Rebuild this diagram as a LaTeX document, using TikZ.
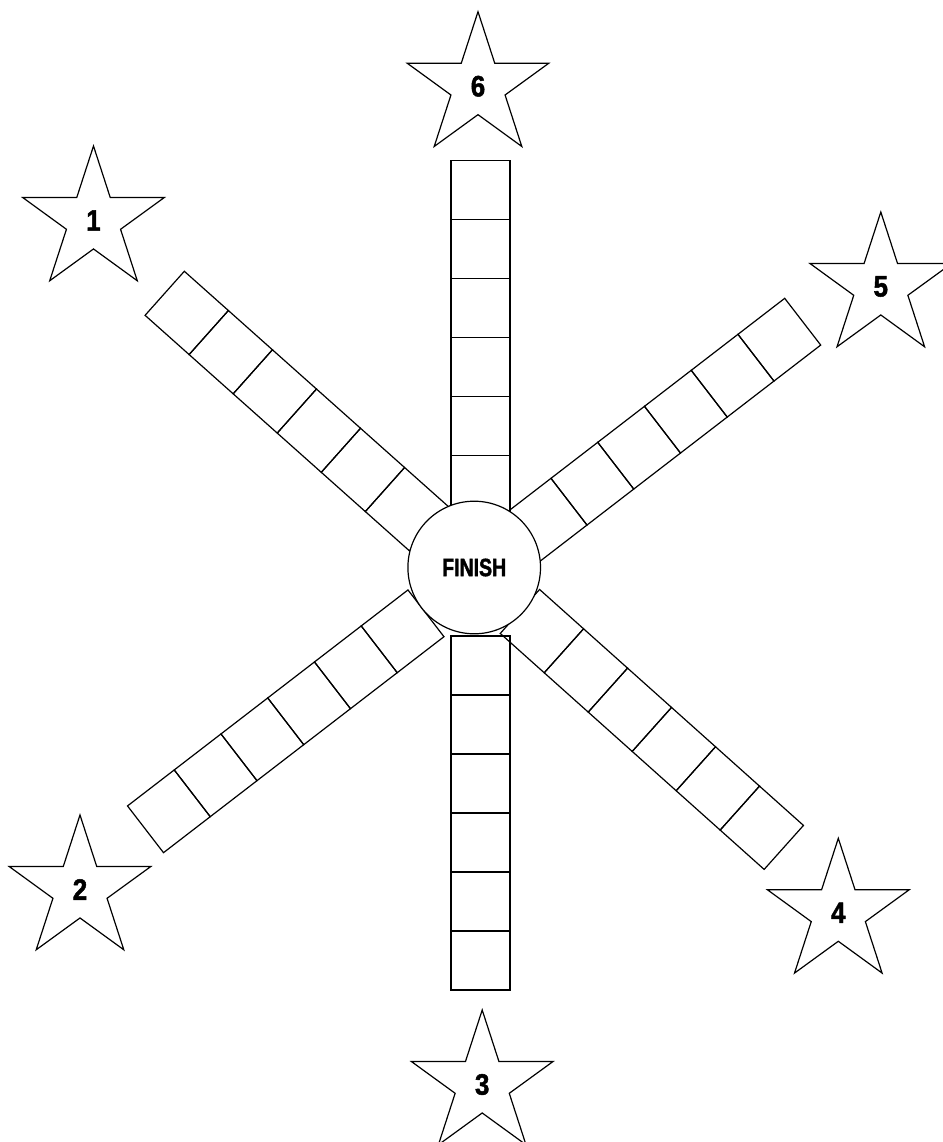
\documentclass[tikz,border=0pt]{standalone}
\usepackage{fontspec}
\setmainfont{Liberation Sans}
\newfontfamily\heavyfont[FakeStretch=0.88, FakeBold=1.6]{Liberation Sans Bold}
\newfontfamily\narrowfont[FakeStretch=0.78, FakeBold=1.6]{Liberation Sans Bold}
\usetikzlibrary{shapes.geometric}
\tikzset{
  starbox/.style={draw, star, star points=5, star point ratio=2.618,
    minimum size=149pt, inner sep=0pt,
    font=\heavyfont\fontsize{29.5}{29.5}\selectfont},
  goal/.style={draw, circle, fill=white, minimum size=132.6pt, inner sep=0pt,
    font=\narrowfont\fontsize{25}{25}\selectfont}
}

\begin{document}
\begin{tikzpicture}[x=1pt, y=-1pt, line width=1.2pt]
  \useasboundingbox (0,0) rectangle (942,1142);
  % arms of six squares, from the outer end inwards
  \foreach \px/\py/\a in {164.7/293.3/-41.7, 145.5/829.3/37.6, 480.5/990/90,
                          783.8/847.4/138.2, 802.7/321.7/-142.4, 480.5/160.7/-90}
    \foreach \i in {0,...,5}
      \draw[shift={(\px,\py)}, rotate=\a] (\i*59,-29.5) rectangle ++(59,59);
  \node[goal] (finish) at (474.2,567.5) {FINISH};
  \foreach \n/\px/\py in {1/93.5/220.5, 2/80/889.5, 3/482.2/1084.5,
                          4/838.3/912.8, 5/880.8/286.5, 6/478/86.2}
    \node[starbox] (star\n) at (\px,\py) {\n};
\end{tikzpicture}
\end{document}
